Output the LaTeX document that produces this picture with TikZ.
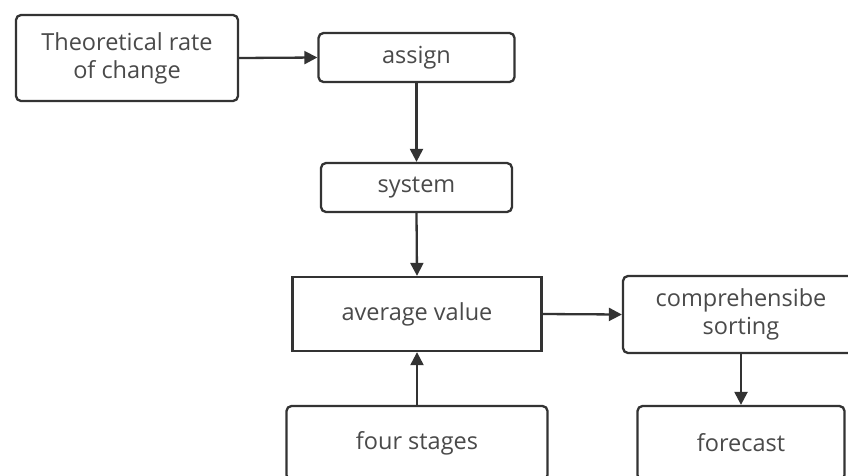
\documentclass[tikz,border=0pt]{standalone}
\usepackage{fontspec}
\setmainfont{Open Sans}
\usetikzlibrary{arrows.meta}
\definecolor{edge}{HTML}{333333}
\definecolor{txt}{HTML}{4A4A4A}
\begin{document}
\begin{tikzpicture}[x=1pt,y=-1pt,
  box/.style={draw=edge,line width=2.3pt,rounded corners=5pt,fill=white,text=txt,
    font=\fontsize{23.5}{28}\selectfont,align=center,inner sep=0pt,anchor=center},
  sq/.style={box,rounded corners=0pt},
  arr/.style={draw=edge,line width=2.3pt,-{Triangle[length=13pt,width=13pt]}}]
\useasboundingbox (0,0) rectangle (848,475);
\fill[white] (0,0) rectangle (848,475);
\clip (0,0) rectangle (848,475);
\node[box,minimum width=222pt,minimum height=86pt] (theo) at (127,58) {Theoretical rate\\of change};
\node[box,minimum width=196pt,minimum height=49pt] (assign) at (416.5,57.5) {assign};
\node[box,minimum width=191pt,minimum height=49pt] (system) at (416.5,187.5) {system};
\node[sq,minimum width=249pt,minimum height=74pt] (avg) at (417,314) {average value};
\node[box,minimum width=236pt,minimum height=77pt] (comp) at (741,314.5) {comprehensibe\\sorting};
\node[box,minimum width=261pt,minimum height=74pt] (four) at (417,443) {four stages};
\node[box,minimum width=207pt,minimum height=74pt] (fore) at (741,443) {forecast};
\draw[arr] (theo.east) -- (assign.west);
\draw[arr] (assign.south) -- (system.north);
\draw[arr] (system.south) -- (avg.north);
\draw[arr] (avg.east) -- (comp.west);
\draw[arr] (four.north) -- (avg.south);
\draw[arr] (comp.south) -- (fore.north);
\end{tikzpicture}
\end{document}
